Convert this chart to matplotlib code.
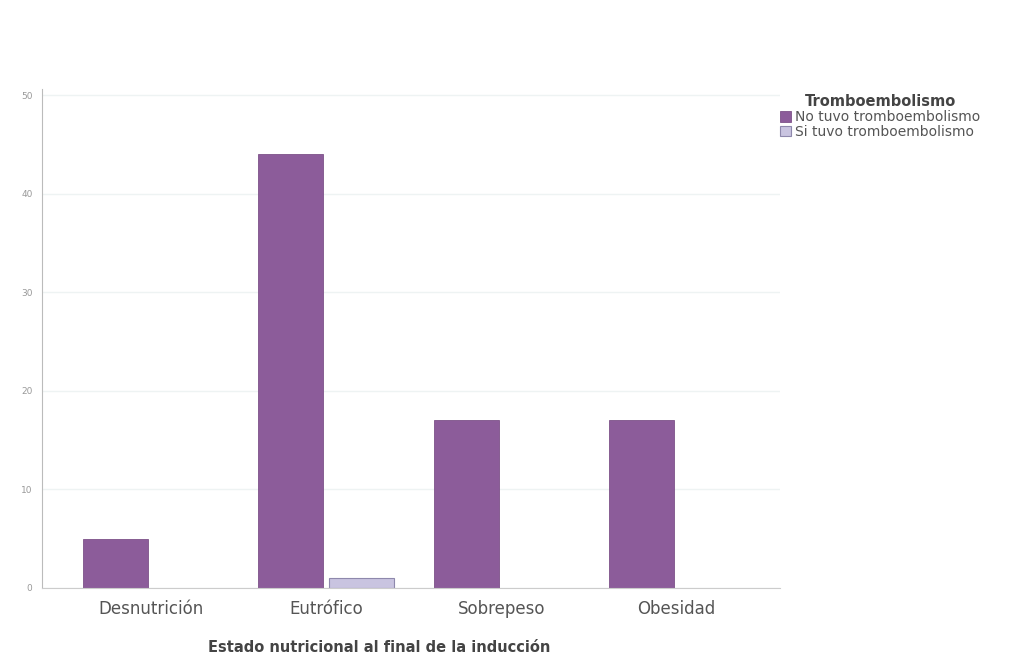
import numpy as np
import matplotlib
matplotlib.use("Agg")
import matplotlib.pyplot as plt
from matplotlib.patches import Patch

plt.rcParams['font.family'] = ['DejaVu Sans']

# data
categorias = ["Desnutrición", "Eutrófico", "Sobrepeso", "Obesidad"]
no_tuvo = [5, 44, 17, 17]
si_tuvo = [0, 1, 0, 0]
series = ["No tuvo tromboembolismo", "Si tuvo tromboembolismo"]
yticks = [0, 10, 20, 30, 40, 50]

col_no, edge_no = "#8c5c9a", "#7d5189"
col_si, edge_si = "#c9c4e0", "#8e88ac"

fig = plt.figure(figsize=(10.3, 6.56), dpi=100)
ax = fig.add_axes([0.041, 0.1037, 0.716, 0.76])

x = np.arange(len(categorias))
w = 0.371
off = 0.2
ax.bar(x - off, no_tuvo, w, color=col_no, edgecolor=edge_no, linewidth=0.6)
b2 = ax.bar(x + off, si_tuvo, w, color=col_si, edgecolor=edge_si, linewidth=0.8)
for r, v in zip(b2, si_tuvo):
    if v == 0:
        r.set_visible(False)  # zero bars draw nothing

ax.set_xlim(-0.62, 3.59)
ax.set_ylim(0, 50.6)
ax.set_yticks(yticks)
ax.set_yticklabels([str(v) for v in yticks], fontsize=6.5, color="#999999")
ax.set_xticks(x)
ax.set_xticklabels(categorias, fontsize=12, color="#555555")
ax.tick_params(axis='y', length=0, pad=7)
ax.tick_params(axis='x', length=0, pad=9)

ax.grid(axis='y', color="#eef3f3", linewidth=1)
ax.set_axisbelow(True)
for s in ["top", "right"]:
    ax.spines[s].set_visible(False)
ax.spines["left"].set_color("#bbbbbb")
ax.spines["bottom"].set_color("#cccccc")

ax.set_xlabel("Estado nutricional al final de la inducción", fontsize=10.5,
              color="#444444", fontweight="semibold")
ax.xaxis.set_label_coords(0.457, -0.104)

handles = [Patch(facecolor=col_no, edgecolor=edge_no, linewidth=0.6),
           Patch(facecolor=col_si, edgecolor=edge_si, linewidth=0.8)]
leg = fig.legend(handles, series, loc="upper left", bbox_to_anchor=(0.745, 0.875),
                 frameon=False, title="Tromboembolismo", fontsize=10,
                 handlelength=0.8, handleheight=0.8, handletextpad=0.3,
                 labelspacing=0.05, labelcolor="#555555")
leg.get_title().set_fontweight("bold")
leg.get_title().set_fontsize(10.5)
leg.get_title().set_color("#444444")

fig.savefig("out.png", dpi=100)
